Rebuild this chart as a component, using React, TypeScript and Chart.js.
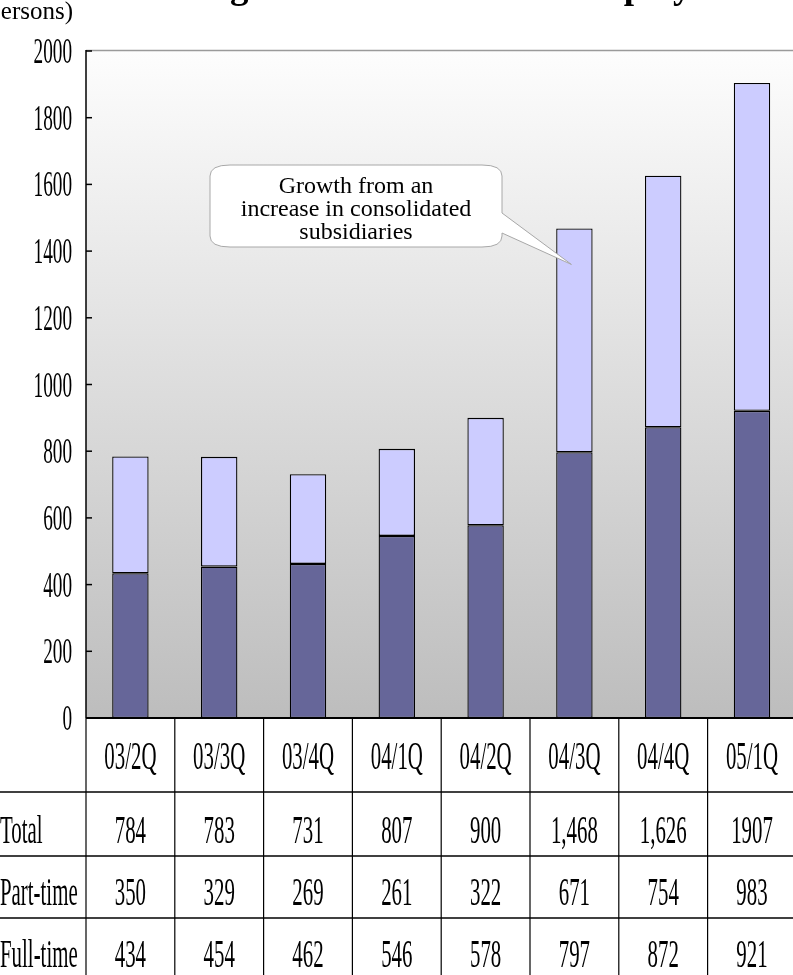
import React, { useEffect, useRef } from "react";
import { Chart, registerables } from "chart.js";

Chart.register(...registerables);

// ---- data ----
const quarters = ["03/2Q", "03/3Q", "03/4Q", "04/1Q", "04/2Q", "04/3Q", "04/4Q", "05/1Q"];
const fullTime = [434, 454, 462, 546, 578, 797, 872, 921];
const partTime = [350, 329, 269, 261, 322, 671, 754, 983];
const totalLabels = ["784", "783", "731", "807", "900", "1,468", "1,626", "1907"];
const rowNames = ["Total", "Part-time", "Full-time"];
const yTicks = [0, 200, 400, 600, 800, 1000, 1200, 1400, 1600, 1800, 2000];
const chartTitle = "Changes in the Number of Employees";
const unitLabel = "(persons)";
const calloutLines = ["Growth from an", "increase in consolidated", "subsidiaries"];

const SERIF = "'Liberation Serif', 'Times New Roman', Times, serif";

// Narrow serif text, drawn with a horizontal squeeze.
function squeezed(
  ctx: CanvasRenderingContext2D,
  text: string,
  x: number,
  y: number,
  size: number,
  sx: number,
  align: CanvasTextAlign
) {
  ctx.save();
  ctx.font = `${size}px ${SERIF}`;
  ctx.fillStyle = "#000";
  ctx.textAlign = align;
  ctx.textBaseline = "alphabetic";
  ctx.translate(x, y);
  ctx.scale(sx, 1);
  ctx.fillText(text, 0, 0);
  ctx.restore();
}

function line(ctx: CanvasRenderingContext2D, x1: number, y1: number, x2: number, y2: number, w: number, c: string) {
  ctx.save();
  ctx.strokeStyle = c;
  ctx.lineWidth = w;
  ctx.beginPath();
  ctx.moveTo(x1, y1);
  ctx.lineTo(x2, y2);
  ctx.stroke();
  ctx.restore();
}

// Gradient plot background with a thin top border.
const backdrop = {
  id: "backdrop",
  beforeDraw(chart: any) {
    const { ctx, chartArea: a } = chart;
    ctx.save();
    ctx.fillStyle = "#fff";
    ctx.fillRect(0, 0, chart.width, chart.height);
    const g = ctx.createLinearGradient(0, a.top, 0, a.bottom);
    g.addColorStop(0, "#fdfdfd");
    g.addColorStop(1, "#bdbdbd");
    ctx.fillStyle = g;
    ctx.fillRect(a.left, a.top, a.right - a.left, a.bottom - a.top);
    ctx.restore();
    line(ctx, a.left, a.top - 0.5, chart.width, a.top - 0.5, 1.5, "#9a9a9a");
  },
};

// Axes, data table, callout and headings.
const overlay = {
  id: "overlay",
  afterDraw(chart: any) {
    const { ctx, chartArea: a } = chart;
    const xs = chart.scales.x;
    const ys = chart.scales.y;
    const colW = (a.right - a.left) / quarters.length;

    // y axis, ticks and labels
    line(ctx, a.left, a.top - 1, a.left, a.bottom, 1.5, "#000");
    yTicks.forEach((v) => {
      const y = ys.getPixelForValue(v);
      line(ctx, a.left, y, a.left + 6, y, 1.5, "#000");
      squeezed(ctx, String(v), 72, y + 12, 35, 0.55, "right");
    });

    // data table below the plot
    const tableBottom = chart.height;
    const rowLines = [a.bottom + 74, a.bottom + 138, a.bottom + 200];
    for (let i = 0; i <= quarters.length; i++) {
      const x = a.left + i * colW;
      line(ctx, x, a.bottom, x, tableBottom, 1.2, "#000");
    }
    rowLines.forEach((y) => line(ctx, 0, y, chart.width, y, 1.3, "#000"));
    line(ctx, a.left, a.bottom, chart.width, a.bottom, 2, "#000");

    const rows = [
      totalLabels,
      partTime.map((v) => String(v)),
      fullTime.map((v) => String(v)),
    ];
    const rowBase = [a.bottom + 125, a.bottom + 187, a.bottom + 249];
    quarters.forEach((q, i) => {
      const cx = xs.getPixelForValue(i);
      squeezed(ctx, q, cx, a.bottom + 51, 39, 0.535, "center");
      rows.forEach((r, k) => squeezed(ctx, r[i], cx, rowBase[k], 39, 0.535, "center"));
    });
    rowNames.forEach((n, k) => squeezed(ctx, n, 0, rowBase[k], 39, 0.535, "left"));

    // callout bubble pointing at the 04/3Q bar
    const tipX = xs.getPixelForValue(5) - 3;
    const tipY = ys.getPixelForValue(1360);
    const L = 210, R = 502, T = 165, B = 247;
    const rx = 20, ry = 11;
    ctx.save();
    ctx.beginPath();
    ctx.moveTo(L + rx, T);
    ctx.lineTo(R - rx, T);
    ctx.quadraticCurveTo(R, T, R, T + ry);
    ctx.lineTo(R, 213);
    ctx.lineTo(tipX, tipY);
    ctx.lineTo(R, 233);
    ctx.lineTo(R, B - ry);
    ctx.quadraticCurveTo(R, B, R - rx, B);
    ctx.lineTo(L + rx, B);
    ctx.quadraticCurveTo(L, B, L, B - ry);
    ctx.lineTo(L, T + ry);
    ctx.quadraticCurveTo(L, T, L + rx, T);
    ctx.closePath();
    ctx.fillStyle = "#ffffff";
    ctx.fill();
    ctx.strokeStyle = "#a8a8a8";
    ctx.lineWidth = 1;
    ctx.stroke();
    ctx.fillStyle = "#000";
    ctx.font = `24px ${SERIF}`;
    ctx.textAlign = "center";
    ctx.textBaseline = "alphabetic";
    const cx = (L + R) / 2;
    calloutLines.forEach((t, i) => ctx.fillText(t, cx, 193 + i * 23));
    ctx.restore();

    // headings
    ctx.save();
    ctx.fillStyle = "#000";
    ctx.textBaseline = "alphabetic";
    ctx.font = `bold 37px ${SERIF}`;
    ctx.textAlign = "center";
    ctx.fillText(chartTitle, (a.left + a.right) / 2, -2);
    ctx.font = `25px ${SERIF}`;
    ctx.textAlign = "right";
    ctx.fillText(unitLabel, 73, 19);
    ctx.restore();
  },
};

export default function App() {
  const ref = useRef<HTMLCanvasElement | null>(null);

  useEffect(() => {
    if (!ref.current) return;
    const chart = new Chart(ref.current, {
      type: "bar",
      data: {
        labels: quarters,
        datasets: [
          {
            label: "Full-time",
            data: fullTime,
            backgroundColor: "#666699",
            borderColor: "#000",
            borderWidth: 1.3,
            borderSkipped: false,
          },
          {
            label: "Part-time",
            data: partTime,
            backgroundColor: "#CCCCFF",
            borderColor: "#000",
            borderWidth: 1.3,
            borderSkipped: false,
          },
        ],
      },
      options: {
        responsive: false,
        animation: false,
        devicePixelRatio: 1,
        layout: { padding: { left: 86, right: 3.6, top: 51, bottom: 257 } },
        datasets: { bar: { categoryPercentage: 1, barPercentage: 0.41 } },
        plugins: {
          legend: { display: false },
          title: { display: false },
          tooltip: { enabled: false },
        },
        scales: {
          x: { display: false, stacked: true, offset: true },
          y: { display: false, stacked: true, min: 0, max: 2000 },
        },
      } as any,
      plugins: [backdrop, overlay],
    });
    return () => chart.destroy();
  }, []);

  return (
    <div
      style={{
        position: "absolute",
        left: 0,
        top: 0,
        width: 793,
        height: 975,
        overflow: "hidden",
        background: "#fff",
      }}
    >
      <canvas ref={ref} width={800} height={975} style={{ display: "block", width: 800, height: 975 }} />
    </div>
  );
}
